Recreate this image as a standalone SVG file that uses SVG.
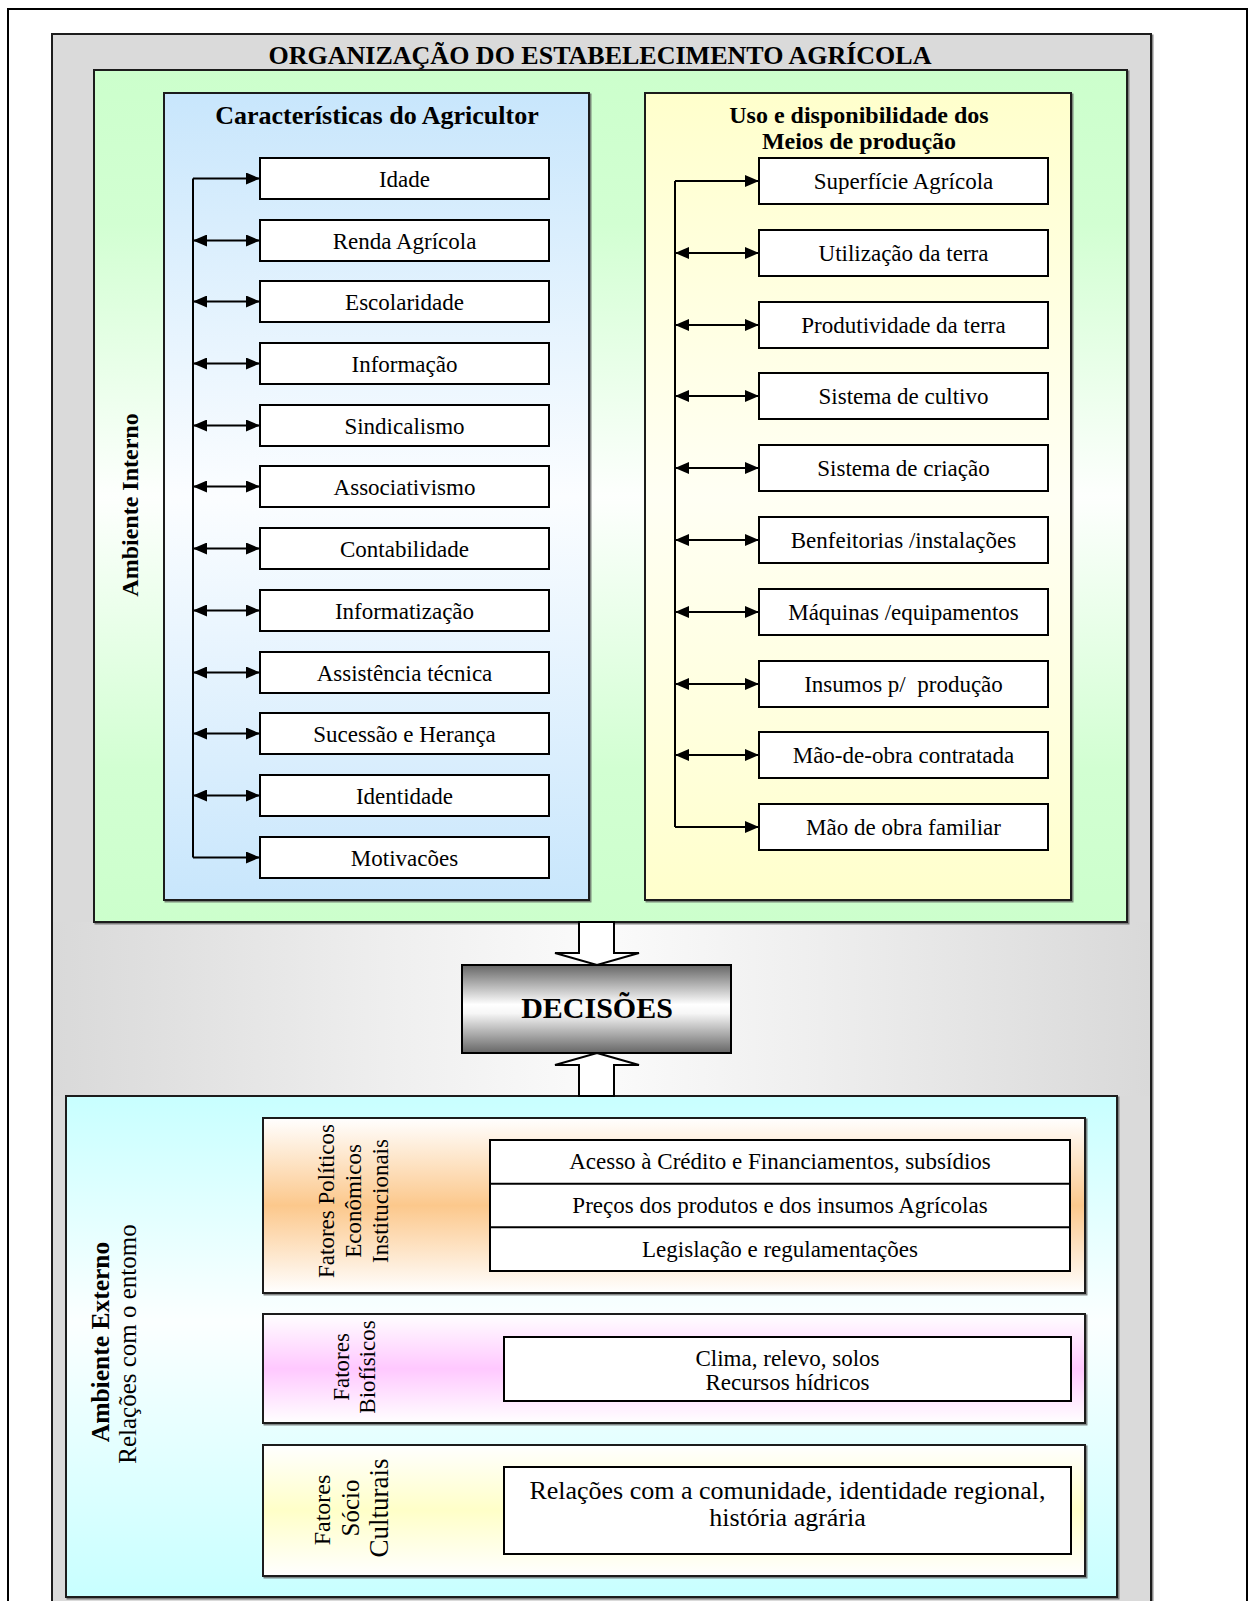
<svg xmlns="http://www.w3.org/2000/svg" width="1250" height="1601" viewBox="0 0 1250 1601">
  <defs>
    <style>
      .t { font-family: "Liberation Serif", "Times New Roman", serif; fill: #000; }
      .b { font-weight: bold; }
      .box { fill: #fff; stroke: #000; stroke-width: 2; }
      .panel { stroke: #1a1a1a; stroke-width: 2; }
      .lbl { font-size: 23px; text-anchor: middle; }
      .hd { font-size: 24px; font-weight: bold; text-anchor: middle; }
      .side { font-size: 23px; text-anchor: middle; }
      .con { stroke: #000; stroke-width: 2; fill: none; }
      .blk { fill: #fff; stroke: #000; stroke-width: 2; stroke-linejoin: miter; }
    </style>
    <marker id="ah" viewBox="0 0 14 12" refX="14" refY="6" markerWidth="14" markerHeight="12" markerUnits="userSpaceOnUse" orient="auto-start-reverse">
      <path d="M0,0 L14,6 L0,12 Z" fill="#000"/>
    </marker>
    <filter id="sh" x="-2%" y="-2%" width="104%" height="104%">
      <feDropShadow dx="1.5" dy="1.5" stdDeviation="0.6" flood-color="#555" flood-opacity="0.7"/>
    </filter>
    <linearGradient id="gBand" x1="0" y1="0" x2="1" y2="0">
      <stop offset="0" stop-color="#d9d9d9"/>
      <stop offset="0.3" stop-color="#eeeeee"/>
      <stop offset="0.5" stop-color="#fbfbfb"/>
      <stop offset="0.7" stop-color="#eeeeee"/>
      <stop offset="1" stop-color="#d9d9d9"/>
    </linearGradient>
    <linearGradient id="gGreen" x1="0" y1="0" x2="0" y2="1">
      <stop offset="0" stop-color="#ccffcc"/>
      <stop offset="0.18" stop-color="#d2ffd2"/>
      <stop offset="0.5" stop-color="#fdfffd"/>
      <stop offset="0.82" stop-color="#d2ffd2"/>
      <stop offset="1" stop-color="#ccffcc"/>
    </linearGradient>
    <linearGradient id="gBlue" x1="0" y1="0" x2="0" y2="1">
      <stop offset="0" stop-color="#c8e6fc"/>
      <stop offset="0.5" stop-color="#fbfdff"/>
      <stop offset="1" stop-color="#c8e6fc"/>
    </linearGradient>
    <linearGradient id="gYellow" x1="0" y1="0" x2="0" y2="1">
      <stop offset="0" stop-color="#ffffcc"/>
      <stop offset="0.5" stop-color="#fffff4"/>
      <stop offset="1" stop-color="#ffffcc"/>
    </linearGradient>
    <linearGradient id="gCyan" x1="0" y1="0" x2="0" y2="1">
      <stop offset="0" stop-color="#c8ffff"/>
      <stop offset="0.45" stop-color="#fbffff"/>
      <stop offset="1" stop-color="#c8ffff"/>
    </linearGradient>
    <linearGradient id="gOrange" x1="0" y1="0" x2="0" y2="1">
      <stop offset="0" stop-color="#ffffff"/>
      <stop offset="0.5" stop-color="#fcc88c"/>
      <stop offset="1" stop-color="#ffffff"/>
    </linearGradient>
    <linearGradient id="gPink" x1="0" y1="0" x2="0" y2="1">
      <stop offset="0" stop-color="#ffffff"/>
      <stop offset="0.5" stop-color="#ffc8ff"/>
      <stop offset="1" stop-color="#ffffff"/>
    </linearGradient>
    <linearGradient id="gCream" x1="0" y1="0" x2="0" y2="1">
      <stop offset="0" stop-color="#ffffff"/>
      <stop offset="0.5" stop-color="#ffffc8"/>
      <stop offset="1" stop-color="#ffffff"/>
    </linearGradient>
    <linearGradient id="gSteel" x1="0" y1="0" x2="0" y2="1">
      <stop offset="0" stop-color="#666666"/>
      <stop offset="0.45" stop-color="#ffffff"/>
      <stop offset="0.55" stop-color="#f6f6f6"/>
      <stop offset="1" stop-color="#666666"/>
    </linearGradient>
  </defs>

  <!-- page frame -->
  <rect x="0" y="0" width="1250" height="1601" fill="#fff"/>
  <rect x="8" y="9" width="1239" height="1640" fill="none" stroke="#000" stroke-width="2"/>

  <!-- organisation panel -->
  <g id="organizacao">
    <rect x="52" y="34" width="1099" height="1600" fill="#dadada" class="panel" filter="url(#sh)"/>
    <rect x="53" y="922" width="1097" height="174" fill="url(#gBand)"/>
    <text class="t b" x="600" y="64" font-size="26" text-anchor="middle">ORGANIZAÇÃO DO ESTABELECIMENTO AGRÍCOLA</text>
  </g>

  <!-- internal environment -->
  <g id="ambiente-interno">
    <rect x="94" y="70" width="1033" height="852" fill="url(#gGreen)" class="panel" filter="url(#sh)"/>
    <text class="t b" font-size="24" text-anchor="middle" transform="translate(138,505) rotate(-90)">Ambiente Interno</text>
  </g>

  <g id="agricultor">
    <rect x="164" y="93" width="425" height="807" fill="url(#gBlue)" class="panel" filter="url(#sh)"/>
    <text class="t hd" x="377" y="124" style="font-size:26px">Características do Agricultor</text>
  </g>

  <g id="meios-producao">
    <rect x="645" y="93" width="426" height="807" fill="url(#gYellow)" class="panel" filter="url(#sh)"/>
    <text class="t hd" x="859" y="123">Uso e disponibilidade dos</text>
    <text class="t hd" x="859" y="149">Meios de produção</text>
  </g>

  <!-- farmer characteristics -->
  <g id="a-idade"><rect class="box" x="260" y="158" width="289" height="41"/><text class="t lbl" x="404.5" y="186.5">Idade</text></g>
  <g id="a-renda"><rect class="box" x="260" y="220" width="289" height="41"/><text class="t lbl" x="404.5" y="248.5">Renda Agrícola</text></g>
  <g id="a-escolaridade"><rect class="box" x="260" y="281" width="289" height="41"/><text class="t lbl" x="404.5" y="309.5">Escolaridade</text></g>
  <g id="a-informacao"><rect class="box" x="260" y="343" width="289" height="41"/><text class="t lbl" x="404.5" y="371.5">Informação</text></g>
  <g id="a-sindicalismo"><rect class="box" x="260" y="405" width="289" height="41"/><text class="t lbl" x="404.5" y="433.5">Sindicalismo</text></g>
  <g id="a-associativismo"><rect class="box" x="260" y="466" width="289" height="41"/><text class="t lbl" x="404.5" y="494.5">Associativismo</text></g>
  <g id="a-contabilidade"><rect class="box" x="260" y="528" width="289" height="41"/><text class="t lbl" x="404.5" y="556.5">Contabilidade</text></g>
  <g id="a-informatizacao"><rect class="box" x="260" y="590" width="289" height="41"/><text class="t lbl" x="404.5" y="618.5">Informatização</text></g>
  <g id="a-assistencia"><rect class="box" x="260" y="652" width="289" height="41"/><text class="t lbl" x="404.5" y="680.5">Assistência técnica</text></g>
  <g id="a-sucessao"><rect class="box" x="260" y="713" width="289" height="41"/><text class="t lbl" x="404.5" y="741.5">Sucessão e Herança</text></g>
  <g id="a-identidade"><rect class="box" x="260" y="775" width="289" height="41"/><text class="t lbl" x="404.5" y="803.5">Identidade</text></g>
  <g id="a-motivacoes"><rect class="box" x="260" y="837" width="289" height="41"/><text class="t lbl" x="404.5" y="865.5">Motivacões</text></g>

  <!-- means of production -->
  <g id="m-superficie"><rect class="box" x="759" y="158" width="289" height="46"/><text class="t lbl" x="903.5" y="189">Superfície Agrícola</text></g>
  <g id="m-utilizacao"><rect class="box" x="759" y="230" width="289" height="46"/><text class="t lbl" x="903.5" y="261">Utilização da terra</text></g>
  <g id="m-produtividade"><rect class="box" x="759" y="302" width="289" height="46"/><text class="t lbl" x="903.5" y="333">Produtividade da terra</text></g>
  <g id="m-cultivo"><rect class="box" x="759" y="373" width="289" height="46"/><text class="t lbl" x="903.5" y="404">Sistema de cultivo</text></g>
  <g id="m-criacao"><rect class="box" x="759" y="445" width="289" height="46"/><text class="t lbl" x="903.5" y="476">Sistema de criação</text></g>
  <g id="m-benfeitorias"><rect class="box" x="759" y="517" width="289" height="46"/><text class="t lbl" x="903.5" y="548">Benfeitorias /instalações</text></g>
  <g id="m-maquinas"><rect class="box" x="759" y="589" width="289" height="46"/><text class="t lbl" x="903.5" y="620">Máquinas /equipamentos</text></g>
  <g id="m-insumos"><rect class="box" x="759" y="661" width="289" height="46"/><text class="t lbl" x="903.5" y="692" xml:space="preserve">Insumos p/  produção</text></g>
  <g id="m-contratada"><rect class="box" x="759" y="732" width="289" height="46"/><text class="t lbl" x="903.5" y="763">Mão-de-obra contratada</text></g>
  <g id="m-familiar"><rect class="box" x="759" y="804" width="289" height="46"/><text class="t lbl" x="903.5" y="835">Mão de obra familiar</text></g>

  <!-- decision node -->
  <g id="decisoes">
    <rect x="462" y="965" width="269" height="88" fill="url(#gSteel)" stroke="#000" stroke-width="2"/>
    <text class="t b" x="597" y="1018" font-size="30" text-anchor="middle">DECISÕES</text>
  </g>

  <!-- external environment -->
  <g id="ambiente-externo">
    <rect x="66" y="1096" width="1051" height="501" fill="url(#gCyan)" class="panel" filter="url(#sh)"/>
    <text class="t b" font-size="25.5" text-anchor="middle" transform="translate(109,1342) rotate(-90)">Ambiente Externo</text>
    <text class="t" font-size="25" text-anchor="middle" transform="translate(136,1344) rotate(-90)">Relações com o entomo</text>
  </g>

  <g id="fatores-politicos">
    <rect x="263" y="1118" width="822" height="175" fill="url(#gOrange)" class="panel" filter="url(#sh)"/>
    <text class="t side" transform="translate(334,1201) rotate(-90)">Fatores Políticos</text>
    <text class="t side" transform="translate(361,1201) rotate(-90)">Econômicos</text>
    <text class="t side" transform="translate(388,1201) rotate(-90)">Institucionais</text>
    <rect class="box" x="490" y="1140" width="580" height="131"/>
    <line x1="490" y1="1183.7" x2="1070" y2="1183.7" stroke="#000" stroke-width="2"/>
    <line x1="490" y1="1227.3" x2="1070" y2="1227.3" stroke="#000" stroke-width="2"/>
    <text class="t lbl" x="780" y="1169">Acesso à Crédito e Financiamentos, subsídios</text>
    <text class="t lbl" x="780" y="1213">Preços dos produtos e dos insumos Agrícolas</text>
    <text class="t lbl" x="780" y="1257">Legislação e regulamentações</text>
  </g>

  <g id="fatores-biofisicos">
    <rect x="263" y="1314" width="822" height="109" fill="url(#gPink)" class="panel" filter="url(#sh)"/>
    <text class="t side" transform="translate(349,1367) rotate(-90)">Fatores</text>
    <text class="t side" transform="translate(375,1367) rotate(-90)">Biofísicos</text>
    <rect class="box" x="504" y="1337" width="567" height="64"/>
    <text class="t lbl" x="787.5" y="1366">Clima, relevo, solos</text>
    <text class="t lbl" x="787.5" y="1390">Recursos hídricos</text>
  </g>

  <g id="fatores-socioculturais">
    <rect x="263" y="1445" width="822" height="131" fill="url(#gCream)" class="panel" filter="url(#sh)"/>
    <text class="t side" transform="translate(330,1510) rotate(-90)" style="font-size:24px">Fatores</text>
    <text class="t side" transform="translate(359,1508) rotate(-90)" style="font-size:25px">Sócio</text>
    <text class="t side" transform="translate(388,1508) rotate(-90)" style="font-size:27px">Culturais</text>
    <rect class="box" x="504" y="1467" width="567" height="87"/>
    <text class="t" x="787.5" y="1499" font-size="26" text-anchor="middle">Relações com a comunidade, identidade regional,</text>
    <text class="t" x="787.5" y="1526" font-size="26" text-anchor="middle">história agrária</text>
  </g>

  <!-- connectors -->
  <g id="connectors">
    <!-- farmer characteristics bus -->
    <path class="con" d="M193,178.5 V857.5"/>
    <line class="con" x1="193" y1="178.5" x2="260" y2="178.5" marker-end="url(#ah)"/>
    <line class="con" x1="193" y1="240.5" x2="260" y2="240.5" marker-start="url(#ah)" marker-end="url(#ah)"/>
    <line class="con" x1="193" y1="301.5" x2="260" y2="301.5" marker-start="url(#ah)" marker-end="url(#ah)"/>
    <line class="con" x1="193" y1="363.5" x2="260" y2="363.5" marker-start="url(#ah)" marker-end="url(#ah)"/>
    <line class="con" x1="193" y1="425.5" x2="260" y2="425.5" marker-start="url(#ah)" marker-end="url(#ah)"/>
    <line class="con" x1="193" y1="486.5" x2="260" y2="486.5" marker-start="url(#ah)" marker-end="url(#ah)"/>
    <line class="con" x1="193" y1="548.5" x2="260" y2="548.5" marker-start="url(#ah)" marker-end="url(#ah)"/>
    <line class="con" x1="193" y1="610.5" x2="260" y2="610.5" marker-start="url(#ah)" marker-end="url(#ah)"/>
    <line class="con" x1="193" y1="672.5" x2="260" y2="672.5" marker-start="url(#ah)" marker-end="url(#ah)"/>
    <line class="con" x1="193" y1="733.5" x2="260" y2="733.5" marker-start="url(#ah)" marker-end="url(#ah)"/>
    <line class="con" x1="193" y1="795.5" x2="260" y2="795.5" marker-start="url(#ah)" marker-end="url(#ah)"/>
    <line class="con" x1="193" y1="857.5" x2="260" y2="857.5" marker-end="url(#ah)"/>

    <!-- means of production bus -->
    <path class="con" d="M675,181 V827"/>
    <line class="con" x1="675" y1="181" x2="759" y2="181" marker-end="url(#ah)"/>
    <line class="con" x1="675" y1="253" x2="759" y2="253" marker-start="url(#ah)" marker-end="url(#ah)"/>
    <line class="con" x1="675" y1="325" x2="759" y2="325" marker-start="url(#ah)" marker-end="url(#ah)"/>
    <line class="con" x1="675" y1="396" x2="759" y2="396" marker-start="url(#ah)" marker-end="url(#ah)"/>
    <line class="con" x1="675" y1="468" x2="759" y2="468" marker-start="url(#ah)" marker-end="url(#ah)"/>
    <line class="con" x1="675" y1="540" x2="759" y2="540" marker-start="url(#ah)" marker-end="url(#ah)"/>
    <line class="con" x1="675" y1="612" x2="759" y2="612" marker-start="url(#ah)" marker-end="url(#ah)"/>
    <line class="con" x1="675" y1="684" x2="759" y2="684" marker-start="url(#ah)" marker-end="url(#ah)"/>
    <line class="con" x1="675" y1="755" x2="759" y2="755" marker-start="url(#ah)" marker-end="url(#ah)"/>
    <line class="con" x1="675" y1="827" x2="759" y2="827" marker-end="url(#ah)"/>

    <!-- block arrows into the decision node -->
    <polygon class="blk" points="579,922 614,922 614,953 639,953 597,965 555,953 579,953"/>
    <polygon class="blk" points="597,1053 639,1065 614,1065 614,1096 579,1096 579,1065 555,1065"/>
  </g>
</svg>
